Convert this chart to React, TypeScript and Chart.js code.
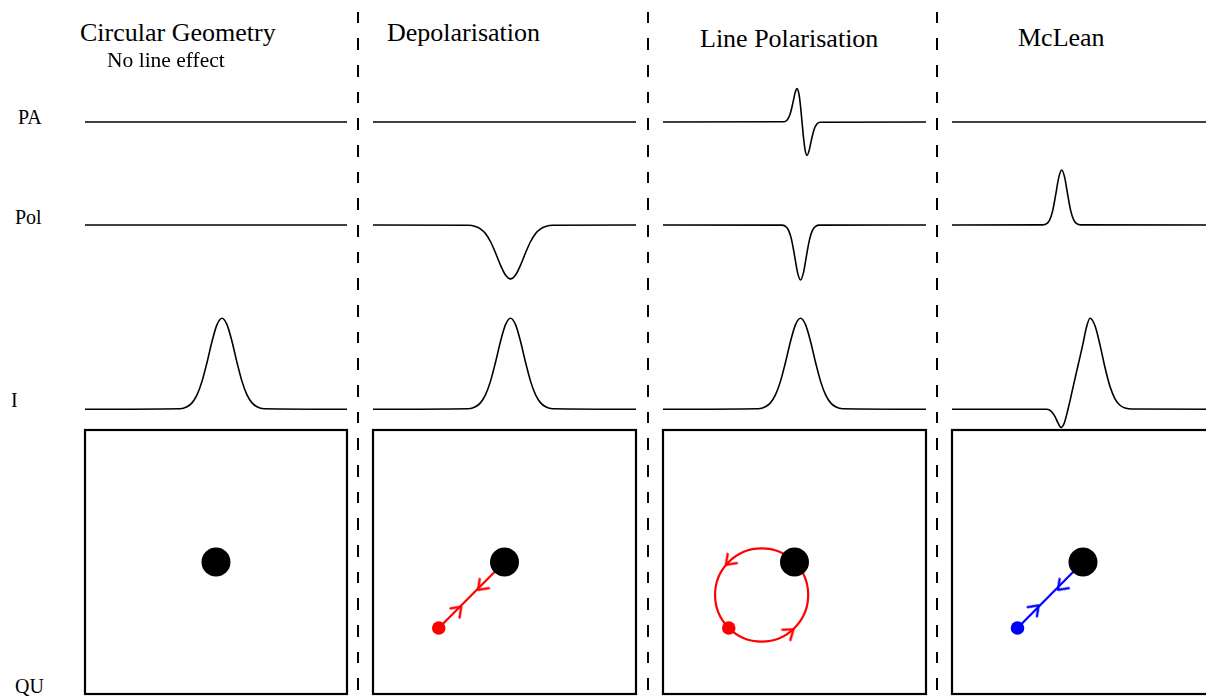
import React, { useEffect, useRef } from 'react';
import { Chart, registerables } from 'chart.js';

Chart.register(...registerables);

// ------------------------------------------------------------------ data
const columnTitles = ['Circular Geometry', 'Depolarisation', 'Line Polarisation', 'McLean'];
const columnSubtitle = 'No line effect';
const rowLabels = ['PA', 'Pol', 'I', 'QU'];

// velocity axis limits (km/s)
const velocityLimits = [-1370, 1250];

// no line effect
const flatVel = [-1370, 1250];
const flatVal = [0, 0];

// Stokes I emission line
const emisVel = [-1370, -420, -350, -300, -250, -200, -150, -100, -50, 0, 50, 100, 150, 200, 250, 300, 350, 420, 1250];
const emisVal = [0, 0.005, 0.027, 0.07, 0.157, 0.306, 0.514, 0.744, 0.929, 1, 0.929, 0.744, 0.514, 0.306, 0.157, 0.07, 0.027, 0.005, 0];

// depolarisation: broad dip in Pol
const depolVal = [0, -0.005, -0.026, -0.069, -0.154, -0.3, -0.504, -0.729, -0.91, -0.98, -0.91, -0.729, -0.504, -0.3, -0.154, -0.069, -0.026, -0.005, 0];

// line polarisation: narrow dip in Pol
const narrowVel = [-1370, -190, -150, -120, -90, -60, -30, 0, 30, 60, 90, 120, 150, 190, 1250];
const linePolVal = [0, -0.003, -0.024, -0.093, -0.262, -0.551, -0.862, -1.0, -0.862, -0.551, -0.262, -0.093, -0.024, -0.003, 0];

// line polarisation: PA rotation
const linePaVel = [-1370, -165, -135, -105, -75, -55, -35, -15, 0, 15, 30, 45, 65, 85, 105, 135, 165, 195, 1250];
const linePaVal = [0, 0.009, 0.055, 0.222, 0.587, 0.866, 1.0, 0.826, 0.473, 0, -0.473, -0.826, -1.0, -0.866, -0.587, -0.222, -0.055, -0.009, 0];

// McLean: Pol peak on the absorption component
const mcPolVel = [-1370, -463, -423, -393, -363, -333, -303, -273, -243, -213, -183, -153, -123, -83, 1250];
const mcPolVal = [0, 0.003, 0.024, 0.093, 0.262, 0.551, 0.862, 1.0, 0.862, 0.551, 0.262, 0.093, 0.024, 0.003, 0];

// McLean: P Cygni-like Stokes I
const mcIVel = [-1370, -420, -380, -340, -310, -280, -250, -210, -160, -110, -60, -30, 10, 60, 110, 160, 210, 260, 310, 360, 430, 1250];
const mcIVal = [0, 0, -0.02, -0.08, -0.15, -0.2, -0.16, 0.0, 0.24, 0.48, 0.72, 0.88, 1.0, 0.917, 0.707, 0.458, 0.249, 0.114, 0.044, 0.014, 0.002, 0];

// QU plane
const continuumQU = [0, 0];
const lineQU = [-0.5, -0.5];
const loopCentreQU = [-0.25, -0.25];
const loopRadius = 0.354;
const depArrowQ = [-0.35, -0.18];
const depArrowU = [-0.36, -0.19];
const depArrowAngle = [-45, 135];
const loopArrowQ = [-0.5, -0.032];
const loopArrowU = [0.0, -0.529];
const loopArrowAngle = [135, -38];
const mcArrowQ = [-0.36, -0.17];
const mcArrowU = [-0.35, -0.19];
const mcArrowAngle = [-45, 135];

// ------------------------------------------------------------------ layout / style
const SERIF = '"Liberation Serif", "Times New Roman", "DejaVu Serif", serif';
const colLeft = [85, 373, 663, 952];
const colWidth = [262, 263, 263, 262];
const separatorX = [357, 647, 936];
const PAD = 4;
const rows = {
  pa: { top: 72, h: 100, min: -1.5, max: 1.5 },
  pol: { top: 159, h: 143, min: -1.4, max: 1.2 },
  i: { top: 300, h: 132, min: -0.25, max: 1.2 },
  qu: { top: 430, h: 264 },
};

const pts = (xs: number[], ys: number[]) => xs.map((x, k) => ({ x, y: ys[k] }));

const baseOptions = (xmin: number, xmax: number, ymin: number, ymax: number) => ({
  animation: false,
  responsive: false,
  maintainAspectRatio: false,
  events: [],
  layout: { padding: PAD, autoPadding: false },
  plugins: { legend: { display: false }, tooltip: { enabled: false }, title: { display: false } },
  scales: {
    x: { type: 'linear', display: false, min: xmin, max: xmax },
    y: { type: 'linear', display: false, min: ymin, max: ymax },
  },
});

function profileConfig(xs: number[], ys: number[], row: { min: number; max: number }) {
  return {
    type: 'line',
    data: {
      datasets: [
        {
          data: pts(xs, ys),
          borderColor: '#000',
          borderWidth: 1.6,
          pointRadius: 0,
          fill: false,
          cubicInterpolationMode: 'monotone',
          clip: false,
        },
      ],
    },
    options: baseOptions(velocityLimits[0], velocityLimits[1], row.min, row.max),
  };
}

function chevron(color: string) {
  const c = document.createElement('canvas');
  c.width = 22;
  c.height = 22;
  const g = c.getContext('2d')!;
  g.strokeStyle = color;
  g.lineWidth = 2.2;
  g.lineCap = 'round';
  g.lineJoin = 'round';
  g.beginPath();
  g.moveTo(6, 4.5);
  g.lineTo(15, 11);
  g.lineTo(6, 17.5);
  g.stroke();
  return c;
}

const framePlugin = {
  id: 'frame',
  beforeDatasetsDraw(chart: any) {
    const { ctx, chartArea: a } = chart;
    ctx.save();
    ctx.strokeStyle = '#000';
    ctx.lineWidth = 2.2;
    ctx.strokeRect(a.left, a.top, a.right - a.left, a.bottom - a.top);
    ctx.restore();
  },
};

function quConfig(kind: string) {
  const datasets: any[] = [];
  datasets.push({
    data: [{ x: continuumQU[0], y: continuumQU[1] }],
    pointRadius: 14.5,
    pointBackgroundColor: '#000',
    pointBorderWidth: 0,
    showLine: false,
  });
  const col = kind === 'mclean' ? '#0000ff' : '#ff0000';
  if (kind !== 'none') {
    datasets.push({
      data: [{ x: lineQU[0], y: lineQU[1] }],
      pointRadius: 6.8,
      pointBackgroundColor: col,
      pointBorderWidth: 0,
      showLine: false,
    });
    const aq = kind === 'dep' ? depArrowQ : kind === 'loop' ? loopArrowQ : mcArrowQ;
    const au = kind === 'dep' ? depArrowU : kind === 'loop' ? loopArrowU : mcArrowU;
    const ang = kind === 'dep' ? depArrowAngle : kind === 'loop' ? loopArrowAngle : mcArrowAngle;
    datasets.push({
      data: pts(aq, au),
      pointStyle: chevron(col),
      pointRotation: ang,
      pointRadius: 5,
      showLine: false,
    });
    if (kind === 'loop') {
      datasets.push({
        data: [{ x: loopCentreQU[0], y: loopCentreQU[1] }],
        pointRadius: (c: any) => {
          const s = c.chart.scales.x;
          return Math.abs(s.getPixelForValue(loopRadius) - s.getPixelForValue(0));
        },
        pointBackgroundColor: 'rgba(0,0,0,0)',
        pointBorderColor: col,
        pointBorderWidth: 2.2,
        showLine: false,
        clip: false,
      });
    } else {
      datasets.push({
        data: [
          { x: lineQU[0], y: lineQU[1] },
          { x: continuumQU[0], y: continuumQU[1] },
        ],
        showLine: true,
        borderColor: col,
        borderWidth: 2.2,
        pointRadius: 0,
      });
    }
  }
  return {
    type: 'scatter',
    data: { datasets },
    options: baseOptions(-1, 1, -1, 1),
    plugins: [framePlugin],
  };
}

// ------------------------------------------------------------------ components
function ChartCanvas(props: { left: number; top: number; width: number; height: number; build: () => any }) {
  const ref = useRef<HTMLCanvasElement>(null);
  useEffect(() => {
    const chart = new Chart(ref.current as HTMLCanvasElement, props.build());
    return () => chart.destroy();
  }, []);
  const w = props.width + 2 * PAD;
  const h = props.height + 2 * PAD;
  return (
    <canvas
      ref={ref}
      width={w}
      height={h}
      style={{ position: 'absolute', left: props.left - PAD, top: props.top - PAD, width: w, height: h }}
    />
  );
}

function Label(props: { text: string; x: number; baseline: number; size: number }) {
  return (
    <div
      style={{
        position: 'absolute',
        left: props.x,
        top: props.baseline - 0.8375 * props.size,
        fontSize: props.size,
        lineHeight: `${props.size}px`,
        fontFamily: SERIF,
        whiteSpace: 'nowrap',
        color: '#000',
      }}
    >
      {props.text}
    </div>
  );
}

const paSets = [
  [flatVel, flatVal],
  [flatVel, flatVal],
  [linePaVel, linePaVal],
  [flatVel, flatVal],
];
const polSets = [
  [flatVel, flatVal],
  [emisVel, depolVal],
  [narrowVel, linePolVal],
  [mcPolVel, mcPolVal],
];
const iSets = [
  [emisVel, emisVal],
  [emisVel, emisVal],
  [emisVel, emisVal],
  [mcIVel, mcIVal],
];
const quKinds = ['none', 'dep', 'loop', 'mclean'];

const titlePos = [
  { x: 80, b: 42 },
  { x: 387, b: 42 },
  { x: 700, b: 48 },
  { x: 1018, b: 47 },
];
const rowLabelPos = [
  { x: 18, b: 124 },
  { x: 15, b: 224 },
  { x: 11, b: 407 },
  { x: 15, b: 693 },
];

export default function App() {
  return (
    <div
      style={{
        position: 'fixed',
        left: 0,
        top: 0,
        width: 1206,
        height: 700,
        overflow: 'hidden',
        background: '#fff',
      }}
    >
      {separatorX.map((x) => (
        <div
          key={'sep' + x}
          style={{
            position: 'absolute',
            left: x,
            top: 0,
            width: 2,
            height: 700,
            background:
              'repeating-linear-gradient(to bottom, transparent 0px, transparent 11.67px, #000 11.67px, #000 23.33px, transparent 23.33px, transparent 26.67px)',
          }}
        />
      ))}
      {colLeft.map((left, c) => (
        <React.Fragment key={'col' + c}>
          <ChartCanvas
            left={left}
            top={rows.pa.top}
            width={colWidth[c]}
            height={rows.pa.h}
            build={() => profileConfig(paSets[c][0], paSets[c][1], rows.pa)}
          />
          <ChartCanvas
            left={left}
            top={rows.pol.top}
            width={colWidth[c]}
            height={rows.pol.h}
            build={() => profileConfig(polSets[c][0], polSets[c][1], rows.pol)}
          />
          <ChartCanvas
            left={left}
            top={rows.i.top}
            width={colWidth[c]}
            height={rows.i.h}
            build={() => profileConfig(iSets[c][0], iSets[c][1], rows.i)}
          />
          <ChartCanvas
            left={left}
            top={rows.qu.top}
            width={colWidth[c]}
            height={rows.qu.h}
            build={() => quConfig(quKinds[c])}
          />
        </React.Fragment>
      ))}
      {columnTitles.map((t, c) => (
        <Label key={'t' + c} text={t} x={titlePos[c].x} baseline={titlePos[c].b} size={26} />
      ))}
      <Label text={columnSubtitle} x={107} baseline={68} size={21.5} />
      {rowLabels.map((t, r) => (
        <Label key={'r' + r} text={t} x={rowLabelPos[r].x} baseline={rowLabelPos[r].b} size={20} />
      ))}
    </div>
  );
}
